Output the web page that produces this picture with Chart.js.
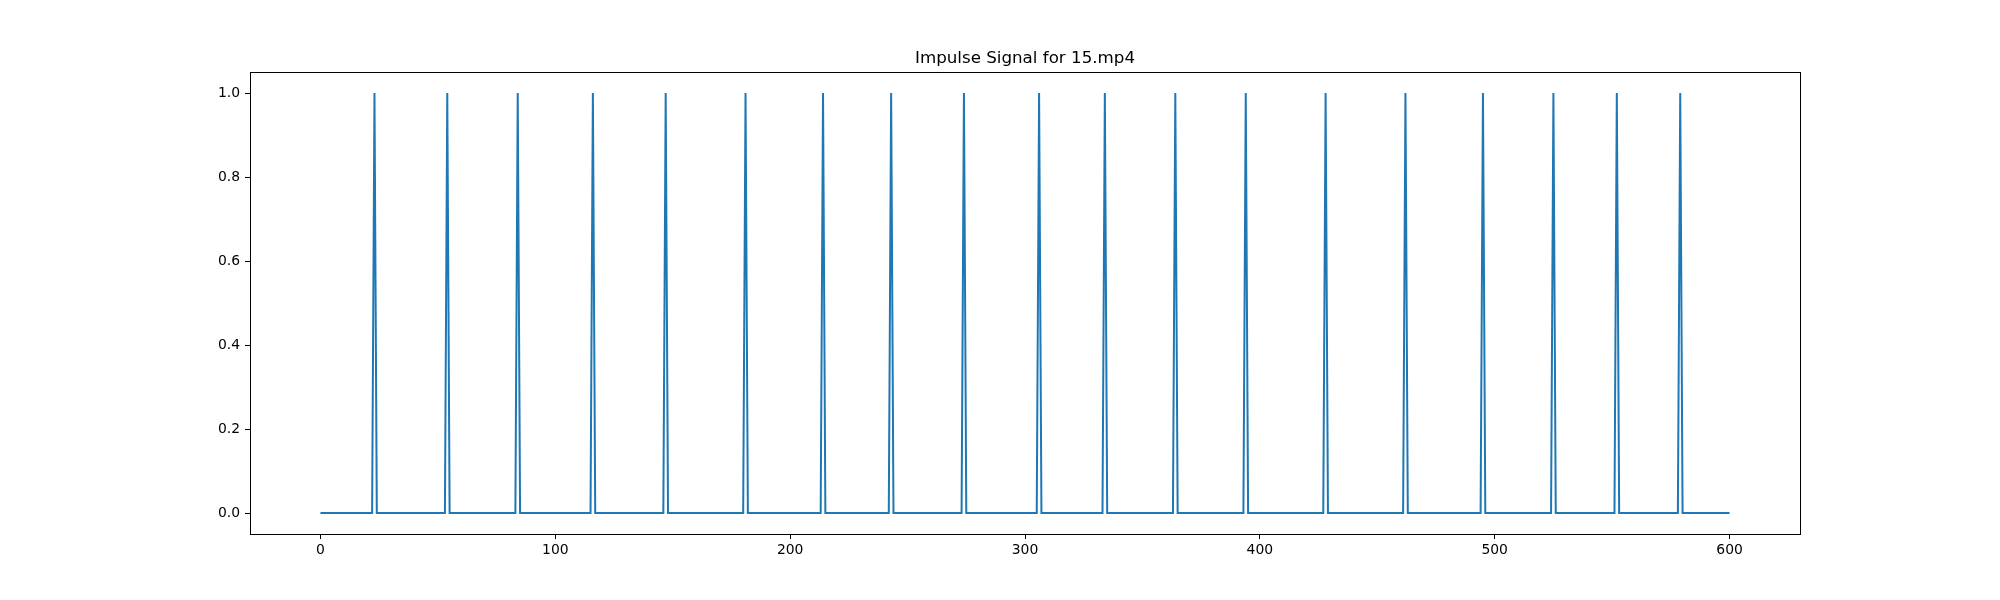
<!DOCTYPE html>
<html lang="en">
<head>
  <meta charset="UTF-8" />
  <title>Impulse Signal for 15.mp4</title>
  <script src="https://cdn.jsdelivr.net/npm/chart.js"></script>
  <style>
    body { margin: 0; background: #fff; }
    canvas { display: block; }
  </style>
</head>
<body>
<canvas id="chart" width="2000" height="600"></canvas>
<script>
  // frames where the impulse fires
  const spikeFrames = [23, 54, 84, 116, 147, 181, 214, 243, 274, 306, 334, 364,
                       394, 428, 462, 495, 525, 552, 579];
  const frameCount = 601;
  const xTicks = [0, 100, 200, 300, 400, 500, 600];
  const yTicks = [0.0, 0.2, 0.4, 0.6, 0.8, 1.0];
  const chartTitle = "Impulse Signal for 15.mp4";

  const points = [];
  for (let i = 0; i < frameCount; i++) {
    points.push({ x: i, y: spikeFrames.includes(i) ? 1 : 0 });
  }

  const font = { family: "'DejaVu Sans', sans-serif", size: 13.9 };

  // frame box + title, matplotlib style
  const boxPlugin = {
    id: "box",
    afterDraw(chart) {
      const a = chart.chartArea;
      const c = chart.ctx;
      c.save();
      c.strokeStyle = "#000";
      c.lineWidth = 1;
      c.strokeRect(Math.round(a.left) + 0.5, Math.round(a.top) + 0.5,
                   Math.round(a.right - a.left), Math.round(a.bottom - a.top));
      c.fillStyle = "#000";
      c.font = "16.7px 'DejaVu Sans', sans-serif";
      c.textAlign = "center";
      c.textBaseline = "alphabetic";
      c.fillText(chartTitle, (a.left + a.right) / 2, a.top - 9);
      c.restore();
    }
  };

  new Chart(document.getElementById("chart"), {
    type: "line",
    data: {
      datasets: [{
        data: points,
        borderColor: "#1f77b4",
        borderWidth: 2,
        pointRadius: 0,
        tension: 0
      }]
    },
    options: {
      responsive: false,
      animation: false,
      layout: { padding: { top: 72, right: 200, left: 0, bottom: 0 } },
      plugins: { legend: { display: false }, title: { display: false }, tooltip: { enabled: false } },
      scales: {
        x: {
          type: "linear",
          min: -30,
          max: 630,
          afterBuildTicks: s => { s.ticks = xTicks.map(v => ({ value: v })); },
          afterFit: s => { s.height = 66; },
          ticks: { color: "#000", font, padding: 3, maxRotation: 0,
                   callback: v => String(v) },
          grid: { drawOnChartArea: false, drawTicks: true, tickLength: 5, color: "#000" },
          border: { display: true, color: "#000", width: 1 }
        },
        y: {
          min: -0.05,
          max: 1.05,
          afterBuildTicks: s => { s.ticks = yTicks.map(v => ({ value: v })); },
          afterFit: s => { s.width = 250; },
          ticks: { color: "#000", font, padding: 5,
                   callback: v => Number(v).toFixed(1) },
          grid: { drawOnChartArea: false, drawTicks: true, tickLength: 5, color: "#000" },
          border: { display: true, color: "#000", width: 1 }
        }
      }
    },
    plugins: [boxPlugin]
  });
</script>
</body>
</html>
